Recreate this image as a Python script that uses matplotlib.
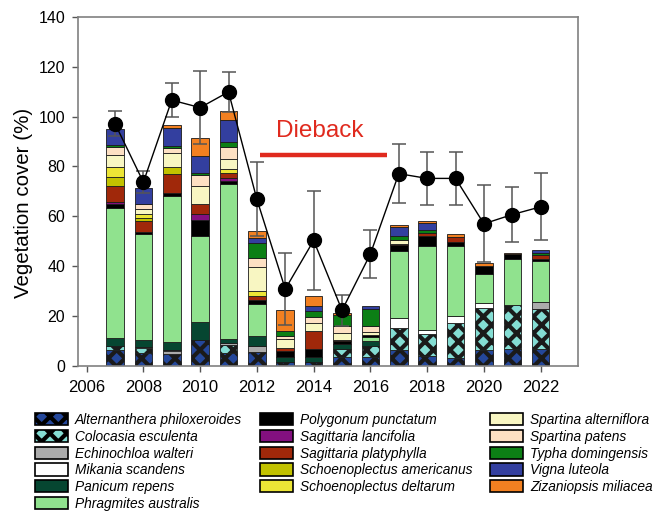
import numpy as np
import matplotlib
matplotlib.use('Agg')
import matplotlib.pyplot as plt

plt.rcParams['font.family'] = 'Liberation Sans'
plt.rcParams['hatch.linewidth'] = 3.0

years = np.arange(2007, 2023)

species = ['Alternanthera philoxeroides', 'Colocasia esculenta', 'Echinochloa walteri',
           'Mikania scandens', 'Panicum repens', 'Phragmites australis',
           'Polygonum punctatum', 'Sagittaria lancifolia', 'Sagittaria platyphylla',
           'Schoenoplectus americanus', 'Schoenoplectus deltarum', 'Spartina alterniflora',
           'Spartina patens', 'Typha domingensis', 'Vigna luteola', 'Zizaniopsis miliacea']

colors = ['#24479a', '#84ddd3', '#ababab', '#ffffff', '#064631', '#90e28e',
          '#000000', '#83107f', '#a0280a', '#c2c200', '#ece536', '#f8f6c2',
          '#fde0c3', '#0c7f15', '#333f9f', '#f28021']
hatches = ['xx', 'xx'] + [None] * 14

# cover (%) of each species per year, 2007-2022
alternanthera = [6.2, 5.1, 4.8, 10.5, 5.1, 5.4, 1.7, 1.4, 3.7, 3.7, 6.2, 4.0, 3.1, 6.2, 6.7, 6.8]
colocasia = [1.8, 2.0, 0, 0, 3.3, 0, 0, 0, 3.0, 4.1, 9.0, 8.7, 14.1, 17.0, 17.8, 16.0]
echinochloa = [0, 0, 1.1, 0, 0.9, 2.6, 0, 0, 0, 0, 0, 0, 0, 0, 0, 2.7]
mikania = [0, 0.6, 0.3, 0, 0, 0, 0, 0, 0, 0, 4.0, 1.7, 2.9, 2.0, 0, 0]
panicum = [3.0, 2.8, 3.2, 7.3, 1.5, 3.8, 2.0, 2.3, 2.1, 2.0, 0, 0, 0, 0, 0, 0]
phragmites = [52.4, 42.6, 58.7, 34.2, 62.0, 13.0, 0, 0, 0, 1.7, 26.8, 33.6, 27.9, 11.7, 18.5, 16.7]
polygonum = [1.6, 0.5, 1.4, 6.7, 1.2, 1.8, 2.3, 3.0, 1.0, 0.8, 2.3, 4.0, 1.6, 3.3, 1.7, 0.8]
sag_lancifolia = [0.9, 0, 0, 2.3, 1.2, 0, 0, 0, 0, 0, 0, 0, 0, 0, 0, 0]
sag_platyphylla = [6.2, 4.7, 7.6, 3.8, 2.3, 1.3, 1.0, 7.1, 0.5, 0, 0.6, 1.4, 2.2, 0, 0, 1.6]
sch_americanus = [3.8, 1.0, 2.8, 0, 0, 0, 0, 0, 0, 0, 0, 0, 0, 0, 0, 0]
sch_deltarum = [4.0, 1.5, 0, 0, 1.6, 2.0, 0, 0, 0, 0, 0, 0, 0, 0, 0, 0]
spa_alterniflora = [4.6, 2.2, 5.4, 7.3, 3.8, 9.6, 3.9, 3.4, 2.8, 1.3, 1.7, 0, 0, 0, 0, 0]
spa_patens = [3.1, 2.0, 1.9, 4.3, 4.7, 3.8, 0.9, 2.4, 3.0, 2.4, 0, 0, 0, 0, 0, 0]
typha = [0.9, 0, 1.1, 1.1, 2.4, 6.0, 2.3, 2.3, 4.4, 6.8, 1.4, 1.0, 0, 0, 0, 0.7]
vigna = [6.4, 6.3, 7.0, 6.7, 8.7, 2.0, 0, 2.2, 0, 1.1, 3.8, 3.0, 0, 0, 0, 1.2]
zizaniopsis = [0, 0, 1.4, 7.1, 3.5, 3.0, 8.2, 3.8, 0.7, 0, 0.8, 0.6, 1.2, 1.0, 0.6, 0]

cover = [alternanthera, colocasia, echinochloa, mikania, panicum, phragmites,
         polygonum, sag_lancifolia, sag_platyphylla, sch_americanus, sch_deltarum,
         spa_alterniflora, spa_patens, typha, vigna, zizaniopsis]

# total cover, mean and error
total_mean = [97.2, 73.7, 106.6, 103.6, 109.9, 66.8, 30.8, 50.3, 22.3, 44.9, 77.1, 75.2, 75.2, 57.0, 60.7, 63.8]
total_err = [5.0, 4.5, 6.8, 14.7, 8.1, 14.8, 14.5, 19.8, 6.3, 9.8, 11.8, 10.6, 10.5, 15.4, 11.0, 13.4]

fig = plt.figure(figsize=(6.54, 5.11), dpi=100)
ax = fig.add_axes([0.119, 0.284, 0.765, 0.683])

bottom = np.zeros(len(years))
for name, vals, col, h in zip(species, cover, colors, hatches):
    vals = np.array(vals, dtype=float)
    keep = vals > 0
    ax.bar(years[keep], vals[keep], bottom=bottom[keep], width=0.62, color=col,
           edgecolor='#1a1a1a', linewidth=0.6, hatch=h, zorder=2)
    bottom += vals

ax.errorbar(years, total_mean, yerr=total_err, fmt='none', ecolor='#555555',
            elinewidth=1.1, capsize=5, capthick=1.1, zorder=3)
ax.plot(years, total_mean, '-', color='black', lw=1.0, zorder=4)
ax.plot(years, total_mean, 'o', color='black', ms=10, zorder=5)

# dieback period
ax.plot([2012.1, 2016.6], [84.5, 84.5], color='#e02a1e', lw=3.2, solid_capstyle='butt', zorder=4)
ax.text(2014.2, 91.7, 'Dieback', color='#e02a1e', fontsize=17.5, ha='center', va='baseline')

ax.set_xlim(2005.69, 2023.32)
ax.set_ylim(0, 140)
ax.set_xticks(np.arange(2006, 2023, 2))
ax.set_yticks(np.arange(0, 141, 20))
ax.tick_params(axis='x', labelsize=12, length=4, width=1, color='#555555', pad=6)
ax.tick_params(axis='y', labelsize=11.5, length=4, width=1, color='#555555', pad=5)
ax.set_ylabel('Vegetation cover (%)', fontsize=14.8)
ax.yaxis.set_label_coords(-0.089, 0.467)
for s in ax.spines.values():
    s.set_color('#808080')
    s.set_linewidth(1.2)

handles = [plt.Rectangle((0, 0), 1, 1, facecolor=c, edgecolor='black', linewidth=1.2, hatch=h)
           for c, h in zip(colors, hatches)]
leg = fig.legend(handles, species, loc='upper left', bbox_to_anchor=(35 / 654, 1 - 413 / 511),
                 ncol=3, frameon=False, borderaxespad=0, borderpad=0,
                 prop={'style': 'italic', 'size': 9.9}, handlelength=2.4, handleheight=1.0,
                 handletextpad=0.5, labelspacing=0.2, columnspacing=1.3)

fig.savefig('out.png', dpi=100)
